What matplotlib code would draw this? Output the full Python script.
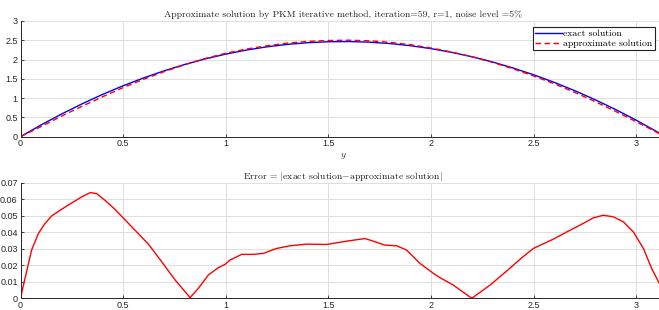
import matplotlib
matplotlib.use("Agg")
import matplotlib.pyplot as plt
import numpy as np

# --- DATA ---
y_grid = [0, 0.1, 0.2, 0.3, 0.4, 0.5, 0.6, 0.7, 0.8, 0.9, 1.0, 1.1, 1.2, 1.3, 1.4, 1.5,
          1.6, 1.7, 1.8, 1.9, 2.0, 2.1, 2.2, 2.3, 2.4, 2.5, 2.6, 2.7, 2.8, 2.9, 3.0, 3.1, 3.1416]
exact_vals = [0, 0.304, 0.588, 0.852, 1.097, 1.321, 1.525, 1.709, 1.873, 2.017, 2.142, 2.246,
              2.330, 2.394, 2.438, 2.462, 2.467, 2.451, 2.415, 2.359, 2.283, 2.187, 2.072,
              1.936, 1.780, 1.604, 1.408, 1.192, 0.956, 0.701, 0.425, 0.129, 0]
approx_vals = [0, 0.262, 0.534, 0.790, 1.036, 1.273, 1.490, 1.688, 1.868, 2.030, 2.163, 2.273,
               2.358, 2.426, 2.471, 2.495, 2.502, 2.487, 2.447, 2.384, 2.299, 2.195, 2.072,
               1.926, 1.759, 1.573, 1.371, 1.148, 0.907, 0.653, 0.385, 0.113, 0]

err_y = [0, 0.022, 0.054, 0.087, 0.119, 0.152, 0.2, 0.249, 0.298, 0.339, 0.371, 0.412, 0.46,
         0.5, 0.558, 0.623, 0.688, 0.753, 0.826, 0.866, 0.915, 0.963, 0.996, 1.02, 1.077,
         1.134, 1.183, 1.248, 1.313, 1.394, 1.491, 1.589, 1.678, 1.718, 1.775, 1.832, 1.881,
         1.946, 2.011, 2.043, 2.108, 2.198, 2.287, 2.368, 2.441, 2.498, 2.595, 2.661, 2.725,
         2.79, 2.839, 2.888, 2.936, 2.985, 3.034, 3.074, 3.107, 3.1416]
err_vals = [0, 0.0121, 0.0292, 0.0392, 0.0453, 0.0499, 0.0539, 0.0577, 0.0614, 0.064, 0.0634,
            0.0593, 0.0539, 0.0487, 0.0412, 0.0328, 0.0221, 0.0111, 0.0004, 0.006, 0.0141,
            0.0185, 0.0205, 0.0231, 0.0266, 0.0266, 0.0272, 0.0302, 0.0318, 0.0328, 0.0326,
            0.0346, 0.0362, 0.0346, 0.0322, 0.0318, 0.0292, 0.0211, 0.0151, 0.0125, 0.008, 0,
            0.008, 0.0165, 0.0245, 0.0302, 0.0358, 0.0402, 0.0443, 0.0487, 0.0503, 0.0493,
            0.0463, 0.0402, 0.0302, 0.0181, 0.0101, 0.002]

x_ticks = [0, 0.5, 1, 1.5, 2, 2.5, 3]
x_ticklabels = ['0', '0.5', '1', '1.5', '2', '2.5', '3']
top_yticks = [0, 0.5, 1, 1.5, 2, 2.5, 3]
top_yticklabels = ['0', '0.5', '1', '1.5', '2', '2.5', '3']
bot_yticks = [0, 0.01, 0.02, 0.03, 0.04, 0.05, 0.06, 0.07]
bot_yticklabels = ['0', '0.01', '0.02', '0.03', '0.04', '0.05', '0.06', '0.07']

# --- STYLE ---
plt.rcParams['mathtext.fontset'] = 'cm'
plt.rcParams['axes.formatter.use_mathtext'] = True
SERIF = ['cmr10', 'DejaVu Serif']
TICKFONT = 'Liberation Sans'
AXCOL = '#262626'
W, H = 659, 310

fig = plt.figure(figsize=(W / 100, H / 100), dpi=100)
# axes run to x = pi, a little past the right edge of the picture
ax1 = fig.add_axes([20.5 / W, 173.3 / H, 645 / W, 115.7 / H])
ax2 = fig.add_axes([20.5 / W, 11.7 / H, 645 / W, 115.6 / H])


def style(ax, yticks, yticklabels):
    ax.set_xlim(0, np.pi)
    ax.set_xticks(x_ticks)
    ax.set_xticklabels(x_ticklabels, fontfamily=TICKFONT, fontsize=6.5, color=AXCOL)
    ax.set_yticks(yticks)
    ax.set_yticklabels(yticklabels, fontfamily=TICKFONT, fontsize=6.5, color=AXCOL)
    ax.set_ylim(yticks[0], yticks[-1])
    ax.tick_params(direction='in', length=2.5, width=0.6, color=AXCOL, pad=2)
    ax.grid(True, color='#dedede', linewidth=0.7)
    ax.set_axisbelow(True)
    for s in ['top', 'right']:
        ax.spines[s].set_visible(False)
    for s in ['left', 'bottom']:
        ax.spines[s].set_color(AXCOL)
        ax.spines[s].set_linewidth(0.7)


style(ax1, top_yticks, top_yticklabels)
style(ax2, bot_yticks, bot_yticklabels)

ax1.plot(y_grid, exact_vals, color='blue', linewidth=1.0, label='exact solution')
ax1.plot(y_grid, approx_vals, color='red', linestyle='--', linewidth=1.0,
         dashes=(4, 2.5), label='approximate solution')
ax1.set_title('Approximate solution by PKM iterative method, iteration=59, r=1, noise level =5%',
              fontfamily=SERIF, fontsize=7, pad=3, color='#222222')
ax1.set_xlabel('$y$', fontsize=7, labelpad=2, color='#333333')
leg = ax1.legend(loc='upper right', bbox_to_anchor=(655 / W, (H - 27) / H),
                 bbox_transform=fig.transFigure, borderaxespad=0, fancybox=False,
                 framealpha=1, edgecolor='#222222', prop={'family': SERIF, 'size': 7},
                 handlelength=2.7, handletextpad=0.2, borderpad=0.25, labelspacing=0.1)
leg.get_frame().set_linewidth(0.8)

ax2.plot(err_y, err_vals, color='red', linewidth=1.0)
ax2.set_title(r'Error = $|$exact solution$-$approximate solution$|$',
              fontfamily=SERIF, fontsize=7, pad=3, color='#222222')

fig.savefig('out.png', dpi=100)
